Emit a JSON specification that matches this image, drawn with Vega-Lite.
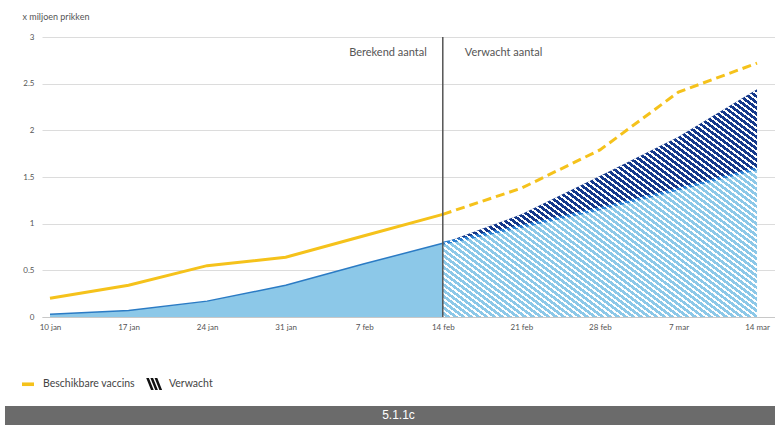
{
"$schema":"https://vega.github.io/schema/vega-lite/v6.json",
"background":"white",
"autosize":{"type":"none"},
"padding":{"left":42,"top":37,"right":0,"bottom":108},
"width":733,"height":280,
"config":{"font":"Lato","view":{"stroke":null}},
"datasets":{
 "weekly":[
  {"date":"2021-01-10T00:00","beschikbaar":0.20,"berekend":0.03},
  {"date":"2021-01-17T00:00","beschikbaar":0.34,"berekend":0.07},
  {"date":"2021-01-24T00:00","beschikbaar":0.55,"berekend":0.17},
  {"date":"2021-01-31T00:00","beschikbaar":0.64,"berekend":0.34},
  {"date":"2021-02-07T00:00","beschikbaar":0.87,"berekend":0.57},
  {"date":"2021-02-14T00:00","beschikbaar":1.10,"berekend":0.79,"licht":0.79,"totaal":0.79},
  {"date":"2021-02-21T00:00","beschikbaar":1.38,"licht":0.97,"totaal":1.10},
  {"date":"2021-02-28T00:00","beschikbaar":1.79,"licht":1.16,"totaal":1.51},
  {"date":"2021-03-07T00:00","beschikbaar":2.41,"licht":1.37,"totaal":1.93},
  {"date":"2021-03-14T00:00","beschikbaar":2.72,"licht":1.59,"totaal":2.44}
 ],
 "split":[
  {"date":"2021-02-14T00:00","links":"Berekend aantal","rechts":"Verwacht aantal"}
 ],
 "footer":[{"label":"5.1.1c"}]
},
"data":{"name":"weekly"},
"layer":[
 {"transform":[{"filter":"datum.berekend != null"}],
  "mark":{"type":"area","color":"#8cc8e8"},
  "encoding":{
   "x":{"field":"date","type":"temporal",
    "scale":{"domain":[{"year":2021,"month":"jan","date":9,"hours":6,"minutes":55},{"year":2021,"month":"mar","date":15,"hours":14,"minutes":25}]},
    "axis":{"title":null,"values":[{"year":2021,"month":"jan","date":10},{"year":2021,"month":"jan","date":17},{"year":2021,"month":"jan","date":24},{"year":2021,"month":"jan","date":31},{"year":2021,"month":"feb","date":7},{"year":2021,"month":"feb","date":14},{"year":2021,"month":"feb","date":21},{"year":2021,"month":"feb","date":28},{"year":2021,"month":"mar","date":7},{"year":2021,"month":"mar","date":14}],
     "labelExpr":"lower(timeFormat(datum.value, '%-d %b'))","grid":false,"ticks":false,"domain":true,"domainColor":"#c8c8c8","labelFontSize":8,"labelColor":"#555","labelPadding":6,"labelFlush":false,"labelOverlap":false}},
   "y":{"field":"berekend","type":"quantitative","scale":{"domain":[0,3],"nice":false},
    "axis":{"values":[0,0.5,1,1.5,2,2.5,3],"format":"~g","title":"x miljoen prikken","titleAngle":0,"titleAlign":"left","titleBaseline":"top","titleX":-20,"titleY":-25,"titleFontSize":9,"titleFontWeight":"normal","titleColor":"#555","labelFontSize":8,"labelColor":"#555","labelPadding":8,"domain":false,"ticks":false,"grid":true,"gridColor":"#dcdcdc"}}}},
 {"transform":[{"filter":"datum.berekend != null"}],
  "mark":{"type":"line","color":"#2b7bc4","strokeWidth":1.5},
  "encoding":{"x":{"field":"date","type":"temporal"},"y":{"field":"berekend","type":"quantitative"}}},
 {"transform":[{"filter":"datum.licht != null"}],
  "mark":{"type":"area","color":"#8cc8e8"},
  "encoding":{"x":{"field":"date","type":"temporal"},"y":{"field":"licht","type":"quantitative"}}},
 {"transform":[{"filter":"datum.licht != null"}],
  "mark":{"type":"area","color":"#15398b"},
  "encoding":{"x":{"field":"date","type":"temporal"},"y":{"field":"totaal","type":"quantitative"},"y2":{"field":"licht"}}},
 {"transform":[{"filter":"datum.licht != null"}],
  "mark":{"type":"line","color":"#2e80d0","strokeWidth":3},
  "encoding":{"x":{"field":"date","type":"temporal"},"y":{"field":"licht","type":"quantitative"}}},
 {"transform":[{"filter":"datum.licht != null"}],
  "mark":{"type":"area","stroke":null,"fill":{"gradient":"linear","x1":0,"y1":1,"x2":1.016,"y2":0.017,"stops":[
{"offset":0,"color":"#fff"},{"offset":0.005,"color":"#fff"},{"offset":0.005,"color":"#fff0"},{"offset":0.0125,"color":"#fff0"},
{"offset":0.0125,"color":"#fff"},{"offset":0.0175,"color":"#fff"},{"offset":0.0175,"color":"#fff0"},{"offset":0.025,"color":"#fff0"},
{"offset":0.025,"color":"#fff"},{"offset":0.03,"color":"#fff"},{"offset":0.03,"color":"#fff0"},{"offset":0.0375,"color":"#fff0"},
{"offset":0.0375,"color":"#fff"},{"offset":0.0425,"color":"#fff"},{"offset":0.0425,"color":"#fff0"},{"offset":0.05,"color":"#fff0"},
{"offset":0.05,"color":"#fff"},{"offset":0.055,"color":"#fff"},{"offset":0.055,"color":"#fff0"},{"offset":0.0625,"color":"#fff0"},
{"offset":0.0625,"color":"#fff"},{"offset":0.0675,"color":"#fff"},{"offset":0.0675,"color":"#fff0"},{"offset":0.075,"color":"#fff0"},
{"offset":0.075,"color":"#fff"},{"offset":0.08,"color":"#fff"},{"offset":0.08,"color":"#fff0"},{"offset":0.0875,"color":"#fff0"},
{"offset":0.0875,"color":"#fff"},{"offset":0.0925,"color":"#fff"},{"offset":0.0925,"color":"#fff0"},{"offset":0.1,"color":"#fff0"},
{"offset":0.1,"color":"#fff"},{"offset":0.105,"color":"#fff"},{"offset":0.105,"color":"#fff0"},{"offset":0.1125,"color":"#fff0"},
{"offset":0.1125,"color":"#fff"},{"offset":0.1175,"color":"#fff"},{"offset":0.1175,"color":"#fff0"},{"offset":0.125,"color":"#fff0"},
{"offset":0.125,"color":"#fff"},{"offset":0.13,"color":"#fff"},{"offset":0.13,"color":"#fff0"},{"offset":0.1375,"color":"#fff0"},
{"offset":0.1375,"color":"#fff"},{"offset":0.1425,"color":"#fff"},{"offset":0.1425,"color":"#fff0"},{"offset":0.15,"color":"#fff0"},
{"offset":0.15,"color":"#fff"},{"offset":0.155,"color":"#fff"},{"offset":0.155,"color":"#fff0"},{"offset":0.1625,"color":"#fff0"},
{"offset":0.1625,"color":"#fff"},{"offset":0.1675,"color":"#fff"},{"offset":0.1675,"color":"#fff0"},{"offset":0.175,"color":"#fff0"},
{"offset":0.175,"color":"#fff"},{"offset":0.18,"color":"#fff"},{"offset":0.18,"color":"#fff0"},{"offset":0.1875,"color":"#fff0"},
{"offset":0.1875,"color":"#fff"},{"offset":0.1925,"color":"#fff"},{"offset":0.1925,"color":"#fff0"},{"offset":0.2,"color":"#fff0"},
{"offset":0.2,"color":"#fff"},{"offset":0.205,"color":"#fff"},{"offset":0.205,"color":"#fff0"},{"offset":0.2125,"color":"#fff0"},
{"offset":0.2125,"color":"#fff"},{"offset":0.2175,"color":"#fff"},{"offset":0.2175,"color":"#fff0"},{"offset":0.225,"color":"#fff0"},
{"offset":0.225,"color":"#fff"},{"offset":0.23,"color":"#fff"},{"offset":0.23,"color":"#fff0"},{"offset":0.2375,"color":"#fff0"},
{"offset":0.2375,"color":"#fff"},{"offset":0.2425,"color":"#fff"},{"offset":0.2425,"color":"#fff0"},{"offset":0.25,"color":"#fff0"},
{"offset":0.25,"color":"#fff"},{"offset":0.255,"color":"#fff"},{"offset":0.255,"color":"#fff0"},{"offset":0.2625,"color":"#fff0"},
{"offset":0.2625,"color":"#fff"},{"offset":0.2675,"color":"#fff"},{"offset":0.2675,"color":"#fff0"},{"offset":0.275,"color":"#fff0"},
{"offset":0.275,"color":"#fff"},{"offset":0.28,"color":"#fff"},{"offset":0.28,"color":"#fff0"},{"offset":0.2875,"color":"#fff0"},
{"offset":0.2875,"color":"#fff"},{"offset":0.2925,"color":"#fff"},{"offset":0.2925,"color":"#fff0"},{"offset":0.3,"color":"#fff0"},
{"offset":0.3,"color":"#fff"},{"offset":0.305,"color":"#fff"},{"offset":0.305,"color":"#fff0"},{"offset":0.3125,"color":"#fff0"},
{"offset":0.3125,"color":"#fff"},{"offset":0.3175,"color":"#fff"},{"offset":0.3175,"color":"#fff0"},{"offset":0.325,"color":"#fff0"},
{"offset":0.325,"color":"#fff"},{"offset":0.33,"color":"#fff"},{"offset":0.33,"color":"#fff0"},{"offset":0.3375,"color":"#fff0"},
{"offset":0.3375,"color":"#fff"},{"offset":0.3425,"color":"#fff"},{"offset":0.3425,"color":"#fff0"},{"offset":0.35,"color":"#fff0"},
{"offset":0.35,"color":"#fff"},{"offset":0.355,"color":"#fff"},{"offset":0.355,"color":"#fff0"},{"offset":0.3625,"color":"#fff0"},
{"offset":0.3625,"color":"#fff"},{"offset":0.3675,"color":"#fff"},{"offset":0.3675,"color":"#fff0"},{"offset":0.375,"color":"#fff0"},
{"offset":0.375,"color":"#fff"},{"offset":0.38,"color":"#fff"},{"offset":0.38,"color":"#fff0"},{"offset":0.3875,"color":"#fff0"},
{"offset":0.3875,"color":"#fff"},{"offset":0.3925,"color":"#fff"},{"offset":0.3925,"color":"#fff0"},{"offset":0.4,"color":"#fff0"},
{"offset":0.4,"color":"#fff"},{"offset":0.405,"color":"#fff"},{"offset":0.405,"color":"#fff0"},{"offset":0.4125,"color":"#fff0"},
{"offset":0.4125,"color":"#fff"},{"offset":0.4175,"color":"#fff"},{"offset":0.4175,"color":"#fff0"},{"offset":0.425,"color":"#fff0"},
{"offset":0.425,"color":"#fff"},{"offset":0.43,"color":"#fff"},{"offset":0.43,"color":"#fff0"},{"offset":0.4375,"color":"#fff0"},
{"offset":0.4375,"color":"#fff"},{"offset":0.4425,"color":"#fff"},{"offset":0.4425,"color":"#fff0"},{"offset":0.45,"color":"#fff0"},
{"offset":0.45,"color":"#fff"},{"offset":0.455,"color":"#fff"},{"offset":0.455,"color":"#fff0"},{"offset":0.4625,"color":"#fff0"},
{"offset":0.4625,"color":"#fff"},{"offset":0.4675,"color":"#fff"},{"offset":0.4675,"color":"#fff0"},{"offset":0.475,"color":"#fff0"},
{"offset":0.475,"color":"#fff"},{"offset":0.48,"color":"#fff"},{"offset":0.48,"color":"#fff0"},{"offset":0.4875,"color":"#fff0"},
{"offset":0.4875,"color":"#fff"},{"offset":0.4925,"color":"#fff"},{"offset":0.4925,"color":"#fff0"},{"offset":0.5,"color":"#fff0"},
{"offset":0.5,"color":"#fff"},{"offset":0.505,"color":"#fff"},{"offset":0.505,"color":"#fff0"},{"offset":0.5125,"color":"#fff0"},
{"offset":0.5125,"color":"#fff"},{"offset":0.5175,"color":"#fff"},{"offset":0.5175,"color":"#fff0"},{"offset":0.525,"color":"#fff0"},
{"offset":0.525,"color":"#fff"},{"offset":0.53,"color":"#fff"},{"offset":0.53,"color":"#fff0"},{"offset":0.5375,"color":"#fff0"},
{"offset":0.5375,"color":"#fff"},{"offset":0.5425,"color":"#fff"},{"offset":0.5425,"color":"#fff0"},{"offset":0.55,"color":"#fff0"},
{"offset":0.55,"color":"#fff"},{"offset":0.555,"color":"#fff"},{"offset":0.555,"color":"#fff0"},{"offset":0.5625,"color":"#fff0"},
{"offset":0.5625,"color":"#fff"},{"offset":0.5675,"color":"#fff"},{"offset":0.5675,"color":"#fff0"},{"offset":0.575,"color":"#fff0"},
{"offset":0.575,"color":"#fff"},{"offset":0.58,"color":"#fff"},{"offset":0.58,"color":"#fff0"},{"offset":0.5875,"color":"#fff0"},
{"offset":0.5875,"color":"#fff"},{"offset":0.5925,"color":"#fff"},{"offset":0.5925,"color":"#fff0"},{"offset":0.6,"color":"#fff0"},
{"offset":0.6,"color":"#fff"},{"offset":0.605,"color":"#fff"},{"offset":0.605,"color":"#fff0"},{"offset":0.6125,"color":"#fff0"},
{"offset":0.6125,"color":"#fff"},{"offset":0.6175,"color":"#fff"},{"offset":0.6175,"color":"#fff0"},{"offset":0.625,"color":"#fff0"},
{"offset":0.625,"color":"#fff"},{"offset":0.63,"color":"#fff"},{"offset":0.63,"color":"#fff0"},{"offset":0.6375,"color":"#fff0"},
{"offset":0.6375,"color":"#fff"},{"offset":0.6425,"color":"#fff"},{"offset":0.6425,"color":"#fff0"},{"offset":0.65,"color":"#fff0"},
{"offset":0.65,"color":"#fff"},{"offset":0.655,"color":"#fff"},{"offset":0.655,"color":"#fff0"},{"offset":0.6625,"color":"#fff0"},
{"offset":0.6625,"color":"#fff"},{"offset":0.6675,"color":"#fff"},{"offset":0.6675,"color":"#fff0"},{"offset":0.675,"color":"#fff0"},
{"offset":0.675,"color":"#fff"},{"offset":0.68,"color":"#fff"},{"offset":0.68,"color":"#fff0"},{"offset":0.6875,"color":"#fff0"},
{"offset":0.6875,"color":"#fff"},{"offset":0.6925,"color":"#fff"},{"offset":0.6925,"color":"#fff0"},{"offset":0.7,"color":"#fff0"},
{"offset":0.7,"color":"#fff"},{"offset":0.705,"color":"#fff"},{"offset":0.705,"color":"#fff0"},{"offset":0.7125,"color":"#fff0"},
{"offset":0.7125,"color":"#fff"},{"offset":0.7175,"color":"#fff"},{"offset":0.7175,"color":"#fff0"},{"offset":0.725,"color":"#fff0"},
{"offset":0.725,"color":"#fff"},{"offset":0.73,"color":"#fff"},{"offset":0.73,"color":"#fff0"},{"offset":0.7375,"color":"#fff0"},
{"offset":0.7375,"color":"#fff"},{"offset":0.7425,"color":"#fff"},{"offset":0.7425,"color":"#fff0"},{"offset":0.75,"color":"#fff0"},
{"offset":0.75,"color":"#fff"},{"offset":0.755,"color":"#fff"},{"offset":0.755,"color":"#fff0"},{"offset":0.7625,"color":"#fff0"},
{"offset":0.7625,"color":"#fff"},{"offset":0.7675,"color":"#fff"},{"offset":0.7675,"color":"#fff0"},{"offset":0.775,"color":"#fff0"},
{"offset":0.775,"color":"#fff"},{"offset":0.78,"color":"#fff"},{"offset":0.78,"color":"#fff0"},{"offset":0.7875,"color":"#fff0"},
{"offset":0.7875,"color":"#fff"},{"offset":0.7925,"color":"#fff"},{"offset":0.7925,"color":"#fff0"},{"offset":0.8,"color":"#fff0"},
{"offset":0.8,"color":"#fff"},{"offset":0.805,"color":"#fff"},{"offset":0.805,"color":"#fff0"},{"offset":0.8125,"color":"#fff0"},
{"offset":0.8125,"color":"#fff"},{"offset":0.8175,"color":"#fff"},{"offset":0.8175,"color":"#fff0"},{"offset":0.825,"color":"#fff0"},
{"offset":0.825,"color":"#fff"},{"offset":0.83,"color":"#fff"},{"offset":0.83,"color":"#fff0"},{"offset":0.8375,"color":"#fff0"},
{"offset":0.8375,"color":"#fff"},{"offset":0.8425,"color":"#fff"},{"offset":0.8425,"color":"#fff0"},{"offset":0.85,"color":"#fff0"},
{"offset":0.85,"color":"#fff"},{"offset":0.855,"color":"#fff"},{"offset":0.855,"color":"#fff0"},{"offset":0.8625,"color":"#fff0"},
{"offset":0.8625,"color":"#fff"},{"offset":0.8675,"color":"#fff"},{"offset":0.8675,"color":"#fff0"},{"offset":0.875,"color":"#fff0"},
{"offset":0.875,"color":"#fff"},{"offset":0.88,"color":"#fff"},{"offset":0.88,"color":"#fff0"},{"offset":0.8875,"color":"#fff0"},
{"offset":0.8875,"color":"#fff"},{"offset":0.8925,"color":"#fff"},{"offset":0.8925,"color":"#fff0"},{"offset":0.9,"color":"#fff0"},
{"offset":0.9,"color":"#fff"},{"offset":0.905,"color":"#fff"},{"offset":0.905,"color":"#fff0"},{"offset":0.9125,"color":"#fff0"},
{"offset":0.9125,"color":"#fff"},{"offset":0.9175,"color":"#fff"},{"offset":0.9175,"color":"#fff0"},{"offset":0.925,"color":"#fff0"},
{"offset":0.925,"color":"#fff"},{"offset":0.93,"color":"#fff"},{"offset":0.93,"color":"#fff0"},{"offset":0.9375,"color":"#fff0"},
{"offset":0.9375,"color":"#fff"},{"offset":0.9425,"color":"#fff"},{"offset":0.9425,"color":"#fff0"},{"offset":0.95,"color":"#fff0"},
{"offset":0.95,"color":"#fff"},{"offset":0.955,"color":"#fff"},{"offset":0.955,"color":"#fff0"},{"offset":0.9625,"color":"#fff0"},
{"offset":0.9625,"color":"#fff"},{"offset":0.9675,"color":"#fff"},{"offset":0.9675,"color":"#fff0"},{"offset":0.975,"color":"#fff0"},
{"offset":0.975,"color":"#fff"},{"offset":0.98,"color":"#fff"},{"offset":0.98,"color":"#fff0"},{"offset":0.9875,"color":"#fff0"},
{"offset":0.9875,"color":"#fff"},{"offset":0.9925,"color":"#fff"},{"offset":0.9925,"color":"#fff0"},{"offset":1,"color":"#fff0"}
  ]}},
  "encoding":{"x":{"field":"date","type":"temporal"},"y":{"field":"totaal","type":"quantitative"}}},
 {"transform":[{"filter":"datum.berekend != null"}],
  "mark":{"type":"line","strokeWidth":3},
  "encoding":{"x":{"field":"date","type":"temporal"},"y":{"field":"beschikbaar","type":"quantitative"},
   "color":{"datum":"Beschikbare vaccins","type":"nominal","scale":{"domain":["Beschikbare vaccins","Verwacht"],"range":["#f5c21b","#111111"]},
    "legend":{"orient":"none","legendX":-37,"legendY":324,"direction":"horizontal","title":null,"padding":17,"symbolSize":144,"labelFontSize":10.5,"labelColor":"#444","labelFont":"Lato","labelOffset":9,"columnPadding":11,
     "encode":{"symbols":{"update":{
      "shape":{"signal":"datum.value === 'Verwacht' ? 'M-1.3,-1L-0.85,-1L-0.05,1L-0.5,1ZM-0.6,-1L-0.15,-1L0.65,1L0.2,1ZM0.1,-1L0.55,-1L1.35,1L0.9,1Z' : 'M-1,-0.3H1V0.3H-1Z'"},
      "fill":{"signal":"datum.value === 'Verwacht' ? '#111111' : '#f5c21b'"},
      "stroke":{"value":"transparent"},"strokeWidth":{"value":0},"opacity":{"value":1}}}}}}}},
 {"transform":[{"filter":"datum.licht != null"}],
  "mark":{"type":"line","strokeWidth":3,"color":"#f5c21b","strokeDash":[9,5]},
  "encoding":{"x":{"field":"date","type":"temporal"},"y":{"field":"beschikbaar","type":"quantitative"}}},
 {"data":{"name":"split"},
  "mark":{"type":"rule","color":"#555","strokeWidth":1.5},
  "encoding":{"x":{"field":"date","type":"temporal"},"y":{"datum":0,"type":"quantitative"},"y2":{"datum":3}}},
 {"data":{"name":"split"},
  "mark":{"type":"text","align":"right","baseline":"middle","dx":-16,"fontSize":11,"color":"#555"},
  "encoding":{"x":{"field":"date","type":"temporal"},"y":{"datum":2.83,"type":"quantitative"},"text":{"field":"links"}}},
 {"data":{"name":"split"},
  "mark":{"type":"text","align":"left","baseline":"middle","dx":22,"fontSize":11,"color":"#555"},
  "encoding":{"x":{"field":"date","type":"temporal"},"y":{"datum":2.83,"type":"quantitative"},"text":{"field":"rechts"}}},
 {"data":{"name":"footer"},
  "mark":{"type":"rect","color":"#6b6b6b"},
  "encoding":{"x":{"datum":{"expr":"datetime(2021, 0, 5, 23, 47)"},"type":"temporal"},"x2":{"datum":{"expr":"datetime(2021, 2, 17)"}},"y":{"datum":-0.954,"type":"quantitative"},"y2":{"datum":-1.3}}},
 {"data":{"name":"footer"},
  "mark":{"type":"rect","color":"#6b6b6b"},
  "encoding":{"y":{"datum":-0.954,"type":"quantitative"},"y2":{"datum":-1.3}}},
 {"data":{"name":"footer"},
  "mark":{"type":"text","color":"#ffffff","font":"Liberation Sans","fontSize":12,"baseline":"middle","dx":-10},
  "encoding":{"y":{"datum":-1.055,"type":"quantitative"},"text":{"field":"label"}}}
]
}
